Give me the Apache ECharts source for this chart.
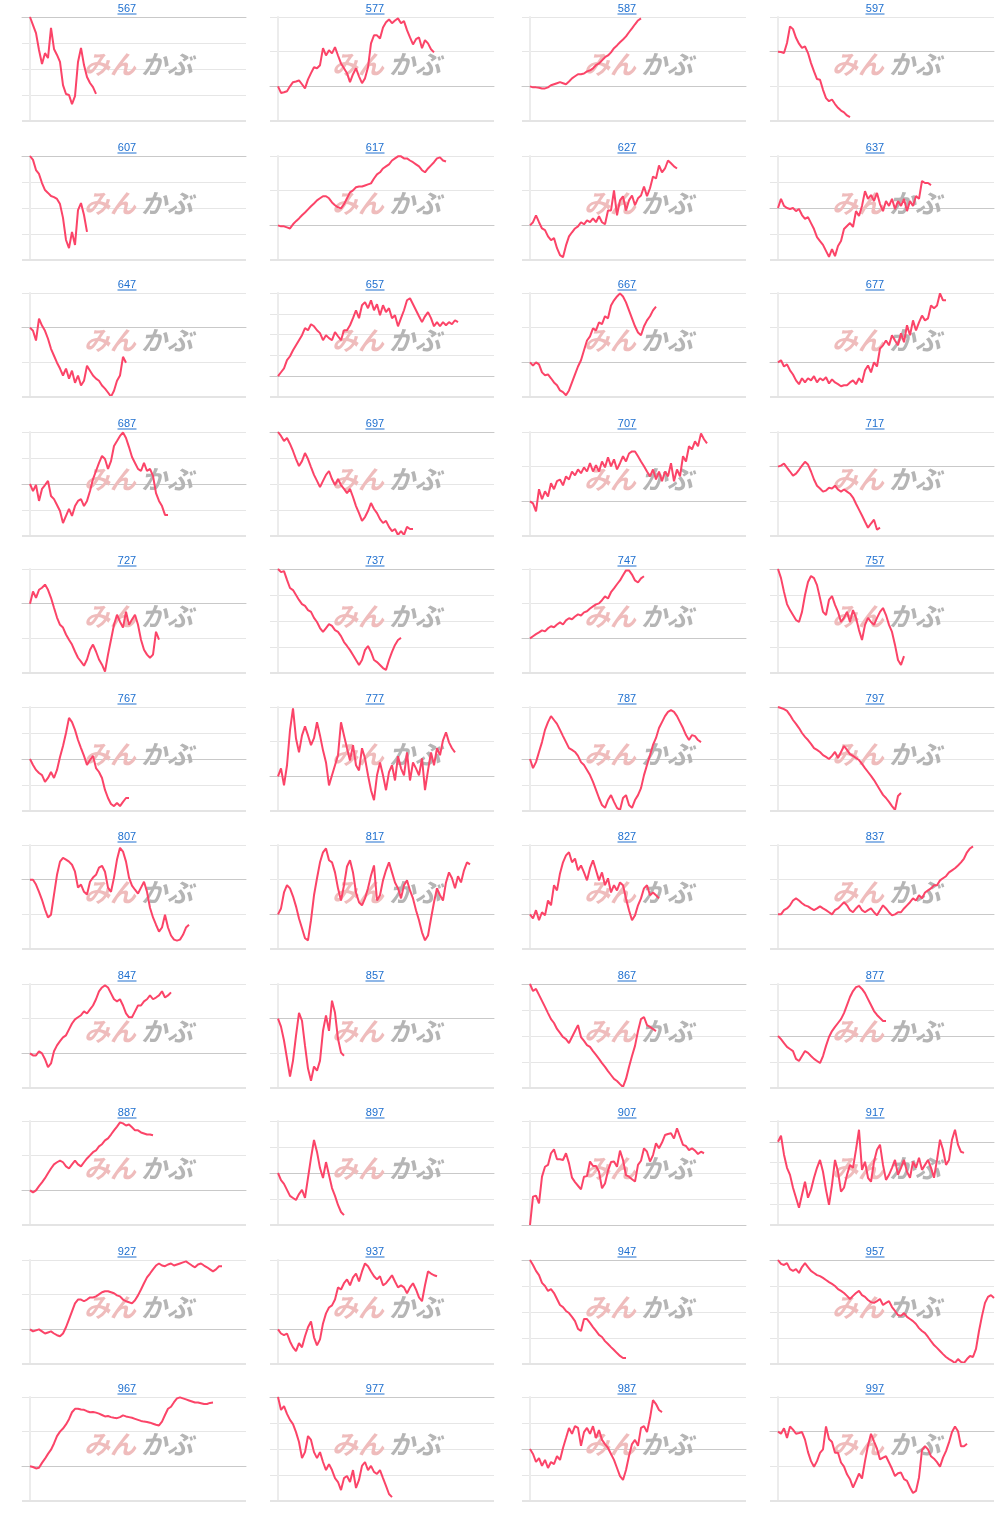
<!DOCTYPE html>
<html>
<head>
<meta charset="utf-8">
<script src="https://cdn.jsdelivr.net/npm/echarts@6/dist/echarts.min.js"></script>
<style>
html,body{margin:0;padding:0;background:#fff;}
#chart{width:1000px;height:1518px;}
</style>
</head>
<body>
<div id="chart"></div>
<script>
// 各パネルのコード（タイトル）
const codes = ['567','577','587','597','607','617','627','637','647','657','667','677',
  '687','697','707','717','727','737','747','757','767','777','787','797',
  '807','817','827','837','847','857','867','877','887','897','907','917',
  '927','937','947','957','967','977','987','997'];

// y軸の範囲（騰落率、目盛り間隔10）
const yLow  = [-40,-10,-10,-20,-40,-10,-10,-20,-20,-10,-10,-10,
  -20,-40,-10,-20,-20,-40,-10,-40,-20,-10,-20,-40,
  -20,-10,-10,-10,-10,-20,-40,-20,-10,-20,0,-40,
  -10,-10,-40,-40,-10,-40,-20,-20];
const yHigh = [0,20,20,10,0,20,20,20,10,40,20,20,
  20,0,20,10,10,0,20,0,20,20,20,0,
  10,20,20,20,20,10,0,20,20,20,40,10,
  20,20,0,0,20,0,20,10];

// 日ごとの騰落率
const p567 = [0,-3.1,-6.2,-12.7,-18.1,-13.9,-15.8,-4.2,-12.3,-14.6,-17.3,-26.2,-29.6,-30,-33.5,-30.4,-17.3,-11.9,-18.5,-23.1,-25.4,-27,-29.6];
const p577 = [0,-1.9,-1.7,-1.4,0,1.2,1.4,1.7,0.6,-0.6,2,3.8,5.5,5.2,6.1,11,8.9,10.4,9.5,11.3,8.9,6.6,5.2,3.8,1.2,3.5,5.2,2.9,0.9,2.3,5.5,12.4,14.7,14.7,13.8,17,18.5,19.3,18.2,19,19.6,18.2,18.8,16.2,14.1,12.1,13.6,14.1,11,13.3,12.4,10.7,9.8];
const p587 = [0,-0.3,-0.3,-0.4,-0.6,-0.6,-0.3,0.3,0.6,0.9,1.2,0.9,0.6,1.4,2.3,2.9,3.5,3.5,3.7,4.3,4.6,5.2,6.1,6.6,7.5,8.4,8.9,9.8,11,11.8,12.7,13.5,14.4,15.6,16.7,17.9,19,19.6];
const p597 = [0,-0.1,-0.4,2.5,7.3,6.5,4,2.3,1.1,1.5,-0.4,-3.3,-5.7,-7.9,-8.1,-11,-13.4,-14.3,-13.8,-15.1,-16.2,-17,-17.5,-18.4,-18.9];
const p607 = [0,-1.5,-5.4,-6.9,-10.4,-13.1,-14.2,-15.4,-15.8,-16.5,-18.5,-23.8,-32.3,-35.4,-29.2,-34.2,-20.8,-18.1,-22.7,-29.2];
const p617 = [0,-0.3,-0.3,-0.6,-0.9,0.3,1.2,2,2.9,3.7,4.6,5.5,6.3,7.2,7.8,8.4,8.4,7.8,6.6,5.8,5.2,4.9,6.1,7.8,9.5,10.1,11,11.2,11.2,11.5,11.8,12.1,13.5,14.7,15.3,16.4,17,17.6,18.7,19.3,19.9,19.9,19.3,19.3,18.7,18.2,17.6,17,15.9,15.3,16.4,17.3,18.2,19.3,19.6,18.7,18.4];
const p627 = [0,0.9,2.9,0.9,-0.9,-1.4,-3.2,-4.3,-3.7,-6.6,-8.6,-9.2,-5.8,-3.2,-2,-0.9,-0.3,0.9,0.3,1.4,0.9,2,0.9,2.6,0.9,0.3,4.3,4.3,10.1,2.9,7.2,8.4,4.3,7.2,8.6,5.8,7.8,8.6,11.2,8.4,10.7,14.1,13.5,17.3,15.3,16.4,18.7,17.9,17,16.4];
const p637 = [0,3.5,0.8,0,-0.4,0,-1.2,-0.4,-2.7,-4.2,-3.5,-5.8,-8.1,-11.2,-12.7,-14.2,-16.5,-18.8,-15.8,-18.5,-14.6,-12.7,-8.1,-6.9,-5.8,-7.3,-1.2,-3.1,0.8,6.5,3.5,5,2.7,5.8,1.5,-1.2,2.7,0.8,3.5,-0.4,2.7,0.8,3.5,-1.2,2.7,0.8,4.6,3.5,10.4,9.6,9.6,8.8];
const p647 = [0,-0.9,-3.7,2.6,0.6,-0.9,-3.2,-6.1,-8.1,-10.1,-11.8,-13.8,-11.8,-14.7,-12.4,-15.9,-13.8,-16.7,-15.3,-11,-12.4,-13.8,-14.7,-15.3,-16.7,-17.6,-18.7,-19.9,-18.2,-15.3,-13.8,-8.4,-10.1];
const p657 = [0,1.9,3.8,7.7,9.6,12.5,14.9,17.3,19.7,23.1,22.1,25,24,22.1,20.7,17.3,19.7,18.3,17.3,21.2,19.2,17.3,22.1,22.1,24.5,27.9,31.7,27.9,34.1,35.6,32.7,36.5,31.7,34.6,29.3,34.1,30.8,32.7,27.9,29.3,24,27.9,31.7,36.5,37.5,34.6,31.7,28.8,26,28.8,30.8,27.9,24,26,24,26,24.5,26,25,26.9,26];
const p667 = [0,-0.9,0,-0.6,-2.9,-3.7,-3.5,-4.6,-5.8,-6.6,-8.1,-8.6,-9.5,-8.1,-5.8,-3.5,-1.2,0.6,3.5,6.3,7.5,9.8,9.2,11.5,11,13.3,12.7,16.4,17.9,19,19.9,19,17.3,15,12.7,10.4,8.6,7.8,10.4,12.1,13.3,15,16.1];
const p677 = [0,0.6,-1.2,-0.6,-2.3,-3.5,-5.2,-6.3,-4.6,-5.8,-4.6,-5.2,-4,-5.8,-4.6,-5.2,-4.3,-6.1,-4.9,-5.8,-6.3,-6.9,-6.6,-6.6,-5.8,-5.2,-6.3,-4.6,-5.8,-2.3,-0.9,-2.9,0,-1.2,4,4.9,6.3,4.9,7.8,6.3,4.9,8.4,5.8,10.7,7.8,12.1,9.2,11.5,13.5,12.1,12.7,16.4,15.6,16.4,19.9,17.9,17.9];
const p687 = [0,-2.7,-0.4,-6.5,-1.9,-0.4,1.2,-4.6,-5.8,-8.1,-10.4,-15,-12.3,-9.6,-12.3,-8.5,-6.5,-5.8,-8.5,-6.5,-2.7,1.9,5,8.1,10.8,9.6,5.8,8.8,14.6,16.5,18.5,19.8,17.7,14.2,10.4,8.1,5.8,5,8.1,5,5.8,3.1,-3.5,-6.5,-8.5,-11.9,-11.9];
const p697 = [0,-1.5,-3.5,-2.3,-4.6,-7.3,-10.4,-13.1,-11.2,-8.1,-10.4,-13.5,-16.5,-18.8,-21.2,-18.8,-16.5,-15,-18.1,-20.4,-18.1,-20.4,-21.9,-23.5,-21.9,-25,-28.5,-31.2,-34.2,-32.7,-30.4,-27.3,-29.6,-31.2,-33.5,-35,-34.2,-36.5,-38.1,-37.3,-39.6,-38.1,-39.6,-36.5,-37.3,-37.3];
const p707 = [0,-0.6,-2.9,3.5,0.6,2.9,1.4,5.2,3.5,5.8,6.3,4.6,7.2,6.3,8.6,7.5,9.2,8.1,9.8,8.6,11,8.6,10.4,8.6,11.5,9.8,12.7,10.1,12.1,9.2,11,13,11.5,13.8,14.4,14.4,13,11.5,10.1,8.6,7.2,9.2,6.3,8.6,5.8,8.6,7.2,11,5.8,9.2,7.2,13,11.5,15.9,15,17.3,15.9,19.6,17.9,16.7];
const p717 = [0,0.3,0.9,-0.3,-1.4,-2.6,-2,-0.9,0.3,1.4,0.6,-1.4,-3.7,-5.5,-6.3,-7.2,-6.9,-6.1,-6.3,-5.5,-6.6,-7.2,-6.6,-7.2,-7.8,-8.9,-10.7,-12.4,-14.1,-15.9,-17.6,-16.4,-15.3,-18.2,-17.6];
const p727 = [0,3.5,1.7,4,4.6,5.5,4,1.7,-1.2,-4,-6.1,-6.9,-8.9,-10.4,-11.8,-13.8,-15.6,-16.7,-17.9,-16.1,-13.3,-11.8,-13.8,-16.1,-17.6,-19.6,-14.7,-10.4,-6.1,-3.2,-5.2,-6.9,-2.3,-6.1,-4.6,-3.2,-6.1,-10.4,-13.3,-14.7,-15.6,-14.7,-8.1,-10.4];
const p737 = [0,-1.2,-0.8,-4.2,-7.3,-8.1,-10,-11.9,-13.5,-14.2,-15.8,-16.5,-18.8,-20.4,-22.7,-24.2,-22.7,-21.2,-21.9,-23.5,-24.2,-25.8,-28.1,-29.6,-31.2,-33.1,-35,-36.9,-35,-31.2,-29.6,-31.9,-35,-35.8,-36.9,-38.1,-38.8,-35,-31.9,-29.2,-27.3,-26.5];
const p747 = [0,0.6,1.2,1.7,2.3,2,2.9,3.5,3.2,4,4.6,4,5.2,5.8,5.5,6.3,6.9,6.6,7.5,7.8,8.6,9.2,9.8,10.1,11,12.1,11.5,13.3,14.4,15.6,16.7,18.2,19.6,19.6,18.4,16.7,16.1,17.3,17.9];
const p757 = [0,-3.5,-8.8,-13.5,-15.8,-17.7,-19.6,-20.4,-16.5,-10,-5,-2.7,-3.5,-6.2,-11.2,-16.5,-17.7,-11.9,-10.4,-13.8,-16.5,-20.4,-18.8,-16.5,-20.4,-15.8,-18.8,-23.5,-27.3,-21.5,-18.8,-20.4,-21.5,-18.8,-16.5,-15,-17.7,-21.5,-24.2,-29.2,-35,-36.9,-33.5];
const p767 = [0,-2.3,-4.2,-5.4,-6.2,-8.8,-7.3,-5,-7.3,-4.2,0.8,5,10,15.8,14.2,11.2,7.3,4.2,1.2,-2.3,-0.4,1.2,-3.5,-5,-7.3,-11.9,-15,-17.3,-18.1,-16.9,-18.1,-16.5,-15,-15];
const p777 = [0,2.3,-2.6,3.2,13.3,19.6,10.9,6.9,11.8,14.4,11.8,9,11,15.6,11.8,7.5,4,-2.6,0.3,3.2,6.1,15.6,11.8,8.1,4.6,9,3.2,1.7,8.1,5.2,0.3,-4,-6.9,0.3,4,0.3,-4,1.2,3.2,-1.2,5.8,2.3,0.3,6.9,-1.2,4,2.3,0.3,5.2,-4,1.7,6.9,3.2,8.1,6.1,10.4,12.7,9.8,8.1,6.9];
const p787 = [0,-3.5,-1.2,2.7,6.5,11.2,14.2,16.5,15,13.5,11.2,8.8,6.5,4.2,3.5,2.7,1.2,-1.2,-2.3,-4.2,-6.2,-8.8,-11.9,-15,-17.7,-18.8,-15.8,-13.9,-16.5,-18.8,-19.6,-15,-13.9,-17.7,-18.8,-15.8,-13.9,-11.2,-6.2,-2.3,1.5,5.4,8.1,11.9,14.2,16.5,18.1,18.8,18.1,16.5,14.2,11.9,9.2,7.3,9.2,8.8,7.3,6.5];
const p797 = [0,-0.4,-0.8,-1.5,-3.1,-5,-6.5,-8.1,-10,-11.5,-12.7,-14.2,-15.8,-16.5,-17.3,-18.5,-19.2,-20,-18.8,-17.3,-19.6,-17.3,-15,-16.5,-18.1,-18.8,-19.6,-20.4,-21.9,-23.5,-25,-26.5,-28.1,-30,-31.9,-33.8,-35,-36.5,-38.1,-39.6,-34.2,-33.1];
const p807 = [0,0,-1.4,-3.5,-5.8,-8.6,-10.9,-10.1,-4.3,1.4,5.2,6.3,5.8,5.2,4.3,2.3,-2.3,-1.4,-3.5,-4.3,-0.6,0.6,1.4,3.5,4,2.3,-2.3,-3.5,0.6,5.8,9.2,8.1,5.2,0.6,-1.7,-2.9,-4,-2.3,-0.6,-3.5,-8.1,-10.9,-13,-15,-13.8,-10.1,-13.8,-16.1,-17.3,-17.6,-17.3,-15.9,-13.8,-13];
const p817 = [0,1.7,6.3,8.4,7.5,5.2,2.3,-1.2,-4,-6.9,-7.5,-1.7,5.5,10.4,15,17.9,19,15.6,15,12.1,7.5,4,8.4,13.8,15.6,12.1,6.3,3.5,2.6,4.6,7.5,11.2,14.1,4,5.5,9.8,12.7,15,12.1,9.2,7.5,4.6,8.4,9.8,6.9,4.6,1.2,-1.7,-5.2,-7.5,-6.1,-1.2,3.5,7.5,5.5,4,9.2,12.1,10.4,7.5,11,9.2,12.7,15,14.4];
const p827 = [0,-1.2,1.2,-1.7,0.6,-0.3,4,2.6,8.4,6.9,11.8,15,17,17.9,15,16.1,12.7,14.1,12.1,9.8,13.3,15.6,12.7,9.8,12.1,8.4,10.4,6.3,8.4,6.9,9.2,8.4,4.6,1.2,-1.7,-0.3,2.6,4.6,7.5,8.4,5.5,6.3,5.5,4.6];
const p837 = [0,0,1.2,1.7,2.6,4,4.6,4,3.2,2.6,2.3,1.7,1.2,1.7,2.3,1.7,1.2,0.6,0,1.2,1.7,2.6,3.5,2.6,1.2,0.6,1.7,2.6,1.2,0.6,1.2,1.7,0.6,-0.3,1.2,2.6,1.7,0.6,-0.3,0,0.6,0.6,1.7,2.6,3.5,4.6,4,5.5,4.6,6.3,6.9,7.5,8.4,8.4,9.8,10.4,11,12.1,12.7,13.3,14.1,15,16.1,17.9,19,19.6];
const p847 = [0,-0.6,-0.6,0.6,0,-1.7,-4,-2.9,0.6,2.3,3.5,4.6,5.2,6.9,8.6,9.8,10.4,11,12.1,11.5,12.7,13.8,15.6,17.9,19,19.6,19,17.3,15.6,15,15.6,13.8,11.5,10.4,10.4,12.1,13.8,13.8,15,15.6,16.7,15.6,16.1,16.7,17.9,16.1,16.7,17.6];
const p857 = [0,-2.3,-6.3,-11.5,-16.7,-12.1,-4.9,1.7,-0.6,-7.8,-14.4,-17.9,-13.8,-15,-12.1,-3.5,0.9,-3.5,5.2,1.7,-5.8,-9.8,-10.7];
const p867 = [0,-2.7,-1.9,-4.2,-6.5,-8.8,-11.2,-13.5,-15,-17.3,-18.8,-20.4,-21.2,-22.7,-20.4,-18.1,-15.8,-20.4,-21.9,-23.5,-24.2,-25.8,-27.3,-28.8,-30.4,-31.9,-33.5,-35,-36.5,-37.3,-38.5,-39.6,-36.5,-31.9,-27.7,-23.8,-18.1,-13.5,-12.7,-15.8,-16.5,-17.3,-18.1];
const p877 = [0,-1.2,-2.7,-4.2,-5,-5.8,-8.8,-9.6,-7.7,-5.8,-6.5,-7.7,-8.8,-9.6,-10.4,-7.7,-3.8,-0.4,1.9,3.5,5,6.5,8.8,11.9,15,17.3,18.8,19.2,18.1,16.5,14.2,11.9,9.6,8.1,6.9,5.8,5.8];
const p887 = [0,-0.6,0,1.2,2.3,3.5,4.9,6.3,7.5,8.1,8.6,8.1,6.9,6.3,7.5,8.6,7.5,6.9,8.1,9.2,10.1,11,11.5,12.7,13.3,14.4,15,16.1,17.3,18.4,19.6,19.3,18.7,19,18.2,17.3,17.3,16.7,16.4,16.1,16.1,15.9];
const p897 = [0,-2.7,-4.2,-6.5,-8.8,-9.6,-10.4,-8.1,-6.5,-9.6,-1.9,5.8,12.7,8.1,1.9,-1.9,4.2,-0.8,-5.8,-8.8,-12.3,-15,-16.2];
const p907 = [0,10.9,11.3,8.3,18.6,22.4,23.1,27.6,29.1,25.3,25.3,25,27.6,23.7,18.2,16.5,15.1,13.7,18.6,18.8,24.4,22.7,22.7,20.5,14.1,16,20.9,24.2,24.4,22.4,28.6,25,19.2,18.6,17.6,16.7,23.1,24.7,29.5,28.2,24.4,26.9,31.4,29.5,31.7,34.6,35,35.3,33.3,37.2,34,30.8,30.4,28.8,29.5,28.6,27.3,28.2,27.6];
const p917 = [0,2.9,-6.2,-12.5,-15.9,-22.1,-26.9,-31.7,-25.5,-19.2,-26.9,-23.1,-17.3,-12.5,-8.7,-14.4,-23.1,-30.3,-20.7,-8.7,-14.4,-24,-22.1,-15.9,-11.1,-12.5,-3.8,5.8,-13.5,-9.6,-17.3,-19.2,-9.6,-3.8,-1.4,-11.1,-18.3,-15.9,-12.5,-8.7,-15.9,-12.5,-8.7,-14.4,-17.3,-9.6,-12.5,-7.7,-13.5,-11.1,-8.7,-12.5,-17.3,-8.7,1,-3.8,-11.1,-8.7,1,5.8,-1.4,-4.8,-5.3];
const p927 = [0,-0.6,-0.3,0,-0.6,-1.2,-0.9,-0.6,-1.2,-1.7,-2,-1.2,0.6,2.9,5.2,7.5,8.6,8.6,8.1,8.6,9.2,9.2,9.5,10.1,10.7,11,11,10.7,10.4,9.8,9.5,8.6,8.1,7.8,7.5,8.4,9.8,11.5,13.3,15,16.1,17.3,18.4,19,18.4,18.2,18.7,19,18.4,18.7,19,19.3,19.6,19,18.4,17.9,18.7,19,18.4,17.9,17.3,16.7,17.3,18.2,18.2];
const p937 = [0,-1.2,-1.7,-1.2,-3.5,-5.2,-6.3,-4,-5.2,-2,0.6,2.3,-2.3,-4.6,-2.9,1.7,4.6,6.3,6.9,8.6,12.1,11.5,13.3,14.4,12.7,15,16.1,13.8,16.7,19,18.2,16.7,15.3,14.4,15.3,12.7,13.3,14.4,15.6,13.8,12.1,12.7,12.1,10.4,12.1,13.3,11.5,9.2,8.1,12.7,16.7,16.1,15.6,15.3];
const p947 = [0,-1.9,-4.2,-5.8,-8.8,-10,-11.9,-11.2,-12.7,-15,-17.3,-18.1,-19.6,-20.4,-21.9,-23.5,-26.5,-27.3,-22.7,-22.7,-24.2,-25.8,-27.3,-28.8,-29.6,-31.2,-32.3,-33.5,-34.6,-35.8,-36.9,-37.7,-37.7];
const p957 = [0,-1.5,-1.9,-1.2,-3.5,-4.2,-3.5,-5,-2.7,-1.2,-2.7,-4.2,-5,-5.8,-6.2,-6.9,-7.7,-8.5,-9.2,-10,-11.2,-11.9,-12.7,-13.8,-15,-13.8,-12.7,-11.9,-13.5,-14.2,-15.4,-16.2,-16.5,-15.8,-15,-17.3,-16.5,-15.8,-18.1,-19.6,-21.2,-21.5,-20.4,-21.9,-22.7,-23.5,-24.6,-26.2,-27.3,-28.1,-29.6,-31.2,-32.7,-33.8,-35,-36.2,-37.3,-38.1,-38.8,-39.6,-38.1,-39.2,-39.6,-38.1,-36.9,-37.3,-34.2,-27.3,-21.5,-16.5,-14.2,-13.5,-14.6];
const p967 = [0,-0.2,-0.6,-0.4,1,2.2,3.6,4.8,6.6,8.7,10,10.9,12.1,13.6,15.6,16.6,16.6,16.4,16.3,15.9,15.6,15.7,15.5,15.2,14.8,14.4,14.5,14.2,14,13.9,14.2,14.7,14.4,14.2,14,13.7,13.4,13.1,12.9,12.8,12.6,12.3,12,11.8,12.9,14.8,16.6,17.2,18.5,19.6,19.9,19.6,19.3,19,18.7,18.4,18.4,18.2,18,18,18.3,18.4];
const p977 = [0,-5,-3.5,-6.5,-8.8,-10.4,-13.5,-17.3,-23.5,-21.2,-15,-16.5,-21.2,-23.5,-21.2,-25,-28.1,-25.8,-28.1,-31.2,-32.7,-35.8,-31.2,-30.4,-32.7,-28.1,-35,-31.9,-26.5,-25,-28.1,-26.5,-28.8,-29.6,-28.1,-31.2,-34.2,-37.3,-38.5];
const p987 = [0,-1.9,-5,-3.5,-6.5,-4.2,-7.3,-5,-5.8,-2.7,-4.2,0.4,4.2,8.1,5.8,8.8,8.1,1.2,6.5,8.1,5.8,8.8,4.2,7.3,3.5,1.9,0.4,-1.9,-4.2,-7.3,-10.4,-11.9,-8.1,-2.7,1.9,3.5,1.2,8.1,8.8,6.5,11.9,18.8,17.3,15,14.2];
const p997 = [0,-0.6,1,-1.8,1.5,0.6,-0.6,-0.4,-0.1,-2.3,-5.9,-8.5,-10.1,-8.5,-6.1,-5.1,1.5,-2.1,-3,-6.1,-6.1,-8.9,-10.1,-12.3,-13.7,-16.1,-14.2,-12.1,-13.5,-8.5,-4,-0.6,-2.8,-4.9,-8,-7.5,-7.1,-8.9,-10.7,-12.8,-12,-11.8,-13.7,-14.2,-16.1,-17.7,-17.1,-13.2,-5.3,-4.2,-5.1,-7.1,-7.8,-8.8,-10.1,-7.5,-5.6,-3.1,-0.1,1.5,0.1,-4.2,-4.2,-3.5];

const lines = [p567,p577,p587,p597,p607,p617,p627,p637,p647,p657,p667,p677,
  p687,p697,p707,p717,p727,p737,p747,p757,p767,p777,p787,p797,
  p807,p817,p827,p837,p847,p857,p867,p877,p887,p897,p907,p917,
  p927,p937,p947,p957,p967,p977,p987,p997];

// レイアウト
const colLeft = [22, 270, 522, 770];
const rowTop = [17, 156, 293, 432, 569, 707, 845, 984, 1121, 1260, 1397];
const plotW = 224, plotH = 104;
const dayMin = -8 / 3, dayMax = 72;

const lineColor = '#fb4468';
const linkColor = '#1e6fcf';

let $chart = echarts.init(document.getElementById('chart'));

const grid = [], xAxis = [], yAxis = [], series = [], graphic = [];

codes.forEach((code, i) => {
	const left = colLeft[i % 4];
	const top = rowTop[Math.floor(i / 4)];
	grid.push({ left: left, top: top, width: plotW, height: plotH });
	xAxis.push({
		type: 'value', gridIndex: i, min: dayMin, max: dayMax,
		axisLine: { show: true, onZero: true, lineStyle: { color: '#c9c9c9', width: 1 } },
		axisTick: { show: false }, axisLabel: { show: false }, splitLine: { show: false }
	});
	yAxis.push({
		type: 'value', gridIndex: i, min: yLow[i], max: yHigh[i], interval: 10,
		axisLine: { show: true, onZero: true, lineStyle: { color: '#ececec', width: 2 } },
		axisTick: { show: false }, axisLabel: { show: false },
		splitLine: { show: true, lineStyle: { color: '#e6e6e6', width: 1 } }
	});
	const s = {
		type: 'line', xAxisIndex: i, yAxisIndex: i,
		data: lines[i].map((v, d) => [d, v]),
		showSymbol: false, symbol: 'none',
		lineStyle: { color: lineColor, width: 2 },
		itemStyle: { color: lineColor },
		z: 3
	};
	//下端の線は少し太め
	if (yLow[i] !== 0) {
		s.markLine = {
			silent: true, symbol: 'none', label: { show: false }, animation: false,
			lineStyle: { color: '#e4e4e4', width: 2, type: 'solid' },
			data: [{ yAxis: yLow[i] }]
		};
	}
	series.push(s);

	// タイトル（リンク風）
	const cx = left + 105;
	graphic.push({
		type: 'text', x: cx, y: top - 8, z: 10,
		style: { text: code, fill: linkColor, font: '11px "Liberation Sans", Arial, sans-serif', align: 'center', verticalAlign: 'middle' }
	});
	graphic.push({
		type: 'rect', z: 10,
		shape: { x: cx - 9.5, y: top - 3.5, width: 19, height: 1 },
		style: { fill: linkColor }
	});
	// 透かしロゴ
	graphic.push({
		type: 'text', x: left + 62, y: top + 47, z: 1,
		style: { text: 'みん', fill: '#efbcbc', font: 'italic bold 26px "Noto Sans CJK JP"', align: 'left', verticalAlign: 'middle' }
	});
	graphic.push({
		type: 'text', x: left + 119, y: top + 47, z: 1,
		style: { text: 'かぶ', fill: '#b5b5b5', font: 'italic bold 26px "Noto Sans CJK JP"', align: 'left', verticalAlign: 'middle' }
	});
});

$chart.setOption({
	animation: false,
	backgroundColor: '#ffffff',
	grid: grid,
	xAxis: xAxis,
	yAxis: yAxis,
	series: series,
	graphic: graphic
}, true);
</script>
</body>
</html>
